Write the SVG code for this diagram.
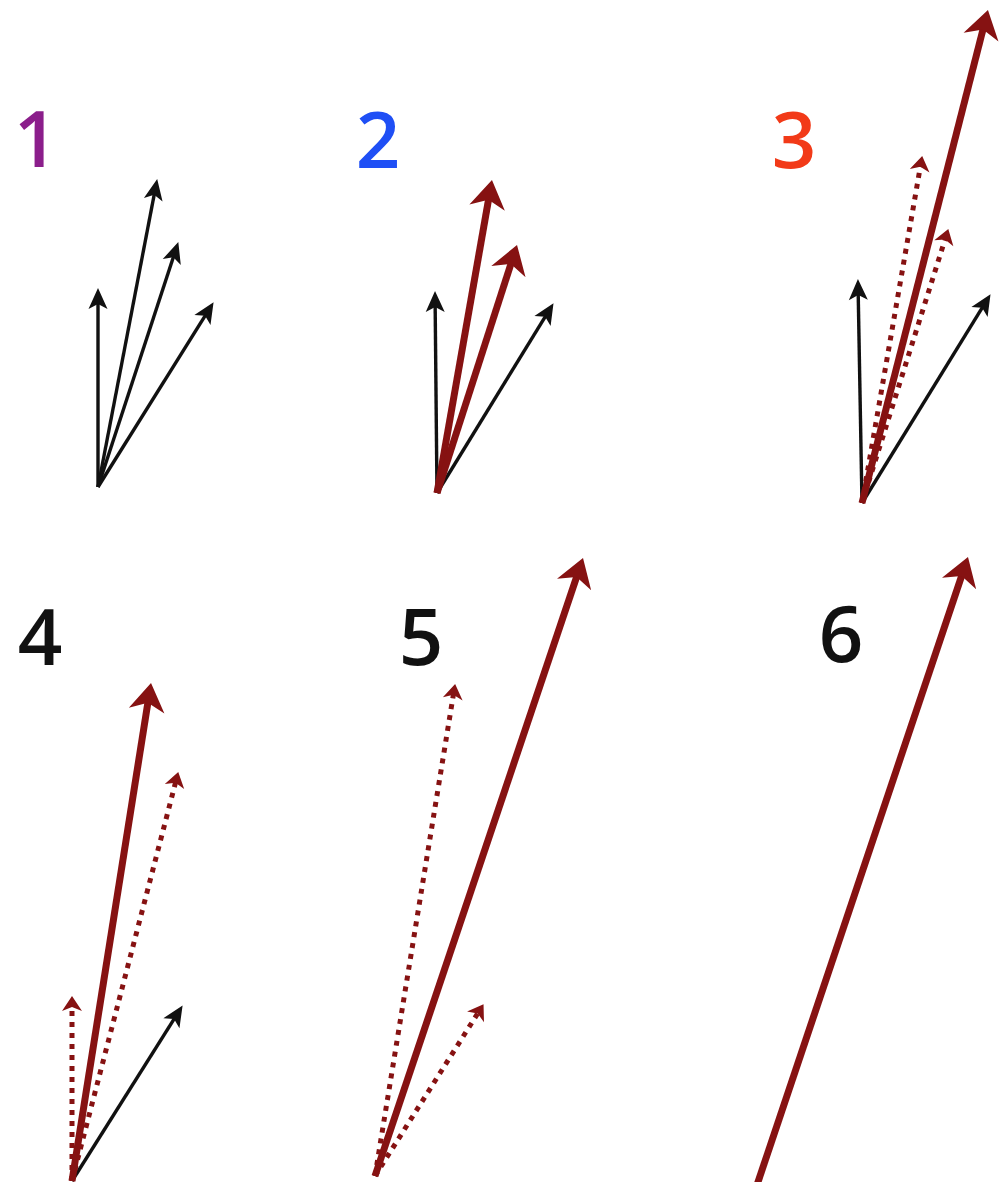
<svg xmlns="http://www.w3.org/2000/svg" width="1003" height="1182" viewBox="0 0 1003 1182">
<style>
.lbl{font-family:"Open Sans","Liberation Sans",sans-serif;font-weight:600;font-size:78px;text-anchor:middle}
.blk{stroke:#111;stroke-width:3.4;fill:none;marker-end:url(#ab)}
.red{stroke:#861212;stroke-width:7;fill:none;marker-end:url(#ar)}
.dot{stroke:#861212;stroke-width:5;fill:none;stroke-dasharray:5 6;marker-end:url(#ad)}
</style>
<defs>
<marker id="ab" markerUnits="userSpaceOnUse" orient="auto" refX="12" refY="0" markerWidth="20" markerHeight="20" overflow="visible"><path d="M0,-9.5 L21,0 L0,9.5 L5,0 Z" fill="#111"/></marker>
<marker id="ar" markerUnits="userSpaceOnUse" orient="auto" refX="12" refY="0" markerWidth="28" markerHeight="38" overflow="visible"><path d="M0,-18 L28,0 L0,18 L8,0 Z" fill="#861212"/></marker>
<marker id="ad" markerUnits="userSpaceOnUse" orient="auto" refX="8" refY="0" markerWidth="15" markerHeight="20" overflow="visible"><path d="M0,-10 L15,0 L0,10 L4,0 Z" fill="#861212"/></marker>
</defs>
<rect width="1003" height="1182" fill="#fff"/>
<g id="labels">
<text class="lbl" x="36" y="167" fill="#8B1E8B">1</text>
<text class="lbl" x="378" y="168" fill="#1F4FF5">2</text>
<text class="lbl" x="794" y="168" fill="#F23A18">3</text>
<text class="lbl" x="40" y="665" fill="#111">4</text>
<text class="lbl" x="421" y="665" fill="#111">5</text>
<text class="lbl" x="841" y="662" fill="#111">6</text>
</g>
<g id="connectors">
<g id="panel1">
<line class="blk" x1="98" y1="487" x2="98" y2="297"/>
<line class="blk" x1="98" y1="487" x2="155.5" y2="187.9"/>
<line class="blk" x1="98" y1="487" x2="175.5" y2="250.6"/>
<line class="blk" x1="98" y1="487" x2="208.8" y2="309.8"/>
</g>
<g id="panel2">
<line class="blk" x1="437" y1="493" x2="435.1" y2="300"/>
<line class="blk" x1="437" y1="493" x2="548.8" y2="310.8"/>
<line class="red" x1="437" y1="493" x2="489.2" y2="195.8"/>
<line class="red" x1="437" y1="493" x2="512.1" y2="260.2"/>
</g>
<g id="panel3">
<line class="blk" x1="862" y1="503" x2="858.1" y2="288"/>
<line class="blk" x1="862" y1="503" x2="985.8" y2="301.8"/>
<line class="dot" x1="862" y1="503" x2="921" y2="162.9"/>
<line class="dot" x1="862" y1="503" x2="946.2" y2="235.7"/>
<line class="red" x1="862" y1="503" x2="984" y2="25.5"/>
</g>
<g id="panel4">
<line class="blk" x1="72" y1="1181" x2="177.8" y2="1013.1"/>
<line class="dot" x1="72" y1="1181" x2="72" y2="1003"/>
<line class="dot" x1="72" y1="1181" x2="176.5" y2="778.8"/>
<line class="red" x1="72" y1="1181" x2="148.5" y2="698.8"/>
</g>
<g id="panel5">
<line class="dot" x1="375" y1="1176" x2="454" y2="690.9"/>
<line class="dot" x1="375" y1="1176" x2="479.8" y2="1010.1"/>
<line class="red" x1="375" y1="1176" x2="577.9" y2="573.2"/>
</g>
<g id="panel6">
<line class="red" x1="757" y1="1185" x2="962.9" y2="572.2"/>
</g>
</g>
</svg>
